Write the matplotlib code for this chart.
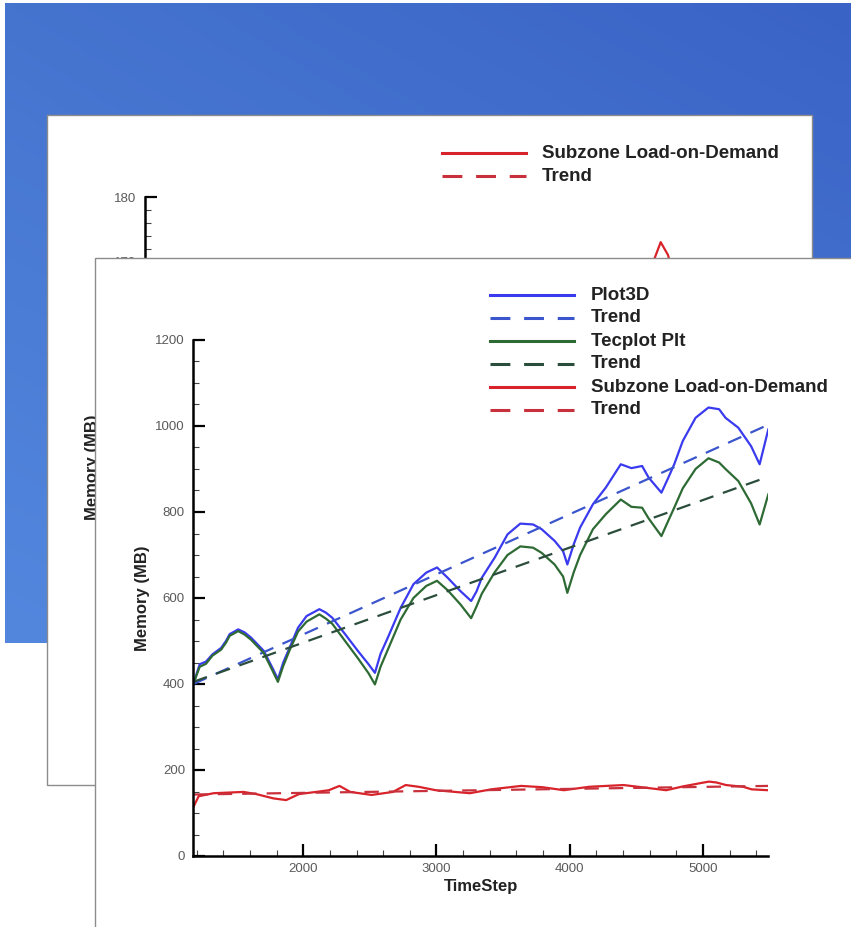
import numpy as np
import matplotlib
matplotlib.use('Agg')
import matplotlib.pyplot as plt
from matplotlib.patches import Rectangle
from matplotlib.lines import Line2D
from matplotlib.ticker import MultipleLocator
from matplotlib.colors import to_rgb

plt.rcParams['font.family'] = ['Liberation Sans', 'DejaVu Sans']

# ---- data ----
plot3d_t = [1175, 1223, 1270, 1319, 1384, 1420, 1448, 1512, 1560, 1608, 1704, 1768, 1810,
            1850, 1897, 1961, 2025, 2121, 2170, 2218, 2314, 2410, 2490, 2538, 2580, 2635,
            2731, 2827, 2923, 3004, 3084, 3180, 3260, 3300, 3340, 3437, 3533, 3629, 3725,
            3789, 3886, 3950, 3982, 4030, 4078, 4174, 4271, 4383, 4463, 4543, 4592, 4688,
            4740, 4784, 4848, 4944, 5041, 5121, 5169, 5265, 5361, 5425, 5490]
plot3d_mb = [400, 446, 452, 469, 484, 500, 516, 527, 520, 508, 477, 438, 411,
             450, 484, 531, 558, 574, 566, 554, 516, 477, 446, 426, 470, 508,
             577, 632, 659, 671, 647, 616, 593, 615, 647, 694, 748, 773, 771,
             760, 733, 709, 678, 725, 764, 818, 857, 911, 902, 907, 880, 845,
             880, 911, 965, 1019, 1043, 1039, 1019, 996, 953, 911, 992]

plt_t = plot3d_t
plt_mb = [400, 440, 447, 466, 480, 496, 512, 523, 515, 503, 472, 432, 405,
          442, 478, 522, 545, 562, 552, 540, 500, 460, 425, 399, 440, 480,
          550, 600, 628, 640, 618, 585, 553, 580, 610, 660, 700, 720, 717,
          705, 678, 650, 612, 660, 700, 760, 795, 829, 812, 810, 785, 744,
          780, 810, 855, 900, 925, 915, 900, 872, 820, 771, 841]

szl_t = [1176, 1215, 1327, 1551, 1647, 1776, 1872, 1968, 2096, 2192, 2272, 2353,
         2513, 2673, 2769, 2865, 2994, 3250, 3410, 3635, 3795, 3955, 4147, 4404,
         4564, 4724, 4852, 4990, 5045, 5100, 5173, 5301, 5365, 5487]
szl_mb = [114, 139, 146, 149, 144, 134, 130, 144, 149, 153, 163, 149,
          142, 149, 165, 161, 153, 146, 155, 163, 160, 153, 161, 165,
          159, 153, 162, 170, 173, 171, 165, 161, 155, 153]

trend_t = [1175, 5490]
plot3d_trend = [400, 1003]
plt_trend = [405, 882]
szl_trend = [143, 163]

labels = ["Plot3D", "Trend", "Tecplot Plt", "Trend", "Subzone Load-on-Demand", "Trend"]

BLUE, BLUE_T = '#3a3aee', '#3b55cc'
GREEN, GREEN_T = '#2e6b34', '#2b4d3b'
RED, RED_T = '#d8232a', '#c8303c'
DASH = [6.5, 4.5]

W, H = 851, 927
fig = plt.figure(figsize=(W / 100, H / 100), dpi=100)


def axes_rect(left, top, right, bottom):
    return [left / W, 1 - bottom / H, (right - left) / W, (bottom - top) / H]


def style_axes(ax, xlim, ylim, ymajor, yminor):
    ax.set_xlim(*xlim)
    ax.set_ylim(*ylim)
    ax.patch.set_visible(False)
    for s in ['top', 'right']:
        ax.spines[s].set_visible(False)
    for s in ['left', 'bottom']:
        ax.spines[s].set_linewidth(1.8)
    ax.xaxis.set_major_locator(MultipleLocator(1000))
    ax.xaxis.set_minor_locator(MultipleLocator(200))
    ax.yaxis.set_major_locator(MultipleLocator(ymajor))
    ax.yaxis.set_minor_locator(MultipleLocator(yminor))
    ax.tick_params(which='major', direction='in', length=8.5, width=1.6,
                   labelsize=9.5, labelcolor='#5a5a5a', pad=5)
    ax.tick_params(which='minor', direction='in', length=4.5, width=0.8, color='#444444')
    ax.tick_params(axis='y', pad=6)


# ---- slide background ----
bg = fig.add_axes([0, 0, 1, 1])
bg.set_xlim(0, W)
bg.set_ylim(H, 0)
bg.axis('off')
bg.set_zorder(0)

tl, tr, bl, br = [np.array(to_rgb(c)) for c in ('#4574cf', '#3a63c6', '#5387de', '#4a7bd5')]
u = np.linspace(0, 1, 64)[None, :, None]
v = np.linspace(0, 1, 64)[:, None, None]
grad = (1 - v) * ((1 - u) * tl + u * tr) + v * ((1 - u) * bl + u * br)
bg.imshow(grad, extent=(5, W, 643, 3), aspect='auto', interpolation='bilinear', zorder=0)

# back sheet
bg.add_patch(Rectangle((47, 115), 765, 670, facecolor='white', edgecolor='#8c8c8c', lw=1, zorder=1))
bg.add_line(Line2D([442, 526], [153, 153], color=RED, lw=2.2, zorder=2))
l = Line2D([442, 526], [176, 176], color=RED_T, lw=2.2, zorder=2)
l.set_dashes(DASH)
bg.add_line(l)
bg.text(542, 153, "Subzone Load-on-Demand", fontsize=13.5, fontweight='bold',
        color='#222222', va='center', zorder=3)
bg.text(542, 176, "Trend", fontsize=13.5, fontweight='bold', color='#222222', va='center', zorder=3)
bg.text(92, 467, "Memory (MB)", fontsize=12, fontweight='bold', rotation=90,
        ha='center', va='center', color='#222222', zorder=3)

back = fig.add_axes(axes_rect(145, 197, 720, 713))
back.set_zorder(1)
style_axes(back, (1175, 5490), (100, 180), 10, 2)
back.plot(szl_t, szl_mb, color=RED, lw=1.6)
back.plot(trend_t, szl_trend, color=RED_T, lw=1.6, dashes=DASH)

# ---- front sheet ----
front_bg = fig.add_axes([0, 0, 1, 1])
front_bg.set_xlim(0, W)
front_bg.set_ylim(H, 0)
front_bg.axis('off')
front_bg.set_zorder(2)
front_bg.add_patch(Rectangle((95, 258), 800, 720, facecolor='white', edgecolor='#8c8c8c', lw=1))

leg_colors = [BLUE, BLUE_T, GREEN, GREEN_T, RED, RED_T]
for i, (lab, col) in enumerate(zip(labels, leg_colors)):
    yy = 295 + 23 * i
    ln = Line2D([490, 574], [yy, yy], color=col, lw=2.2)
    if i % 2 == 1:
        ln.set_dashes(DASH)
    front_bg.add_line(ln)
    front_bg.text(591, yy, lab, fontsize=13.5, fontweight='bold', color='#222222', va='center')

ax = fig.add_axes(axes_rect(193.3, 340, 768.3, 856))
ax.set_zorder(3)
style_axes(ax, (1175, 5490), (0, 1200), 200, 50)

ax.plot(plot3d_t, plot3d_mb, color=BLUE, lw=1.6)
ax.plot(trend_t, plot3d_trend, color=BLUE_T, lw=1.6, dashes=DASH)
ax.plot(plt_t, plt_mb, color=GREEN, lw=1.6)
ax.plot(trend_t, plt_trend, color=GREEN_T, lw=1.6, dashes=DASH)
ax.plot(szl_t, szl_mb, color=RED, lw=1.6)
ax.plot(trend_t, szl_trend, color=RED_T, lw=1.6, dashes=DASH)

ax.text((142 - 193.3) / 575, 0.5, "Memory (MB)", transform=ax.transAxes, rotation=90,
        fontsize=12, fontweight='bold', ha='center', va='center', color='#222222')
ax.text(0.5, -(886 - 856) / 516, "TimeStep", transform=ax.transAxes,
        fontsize=12, fontweight='bold', ha='center', va='center', color='#222222')

fig.savefig('out.png', dpi=100)
